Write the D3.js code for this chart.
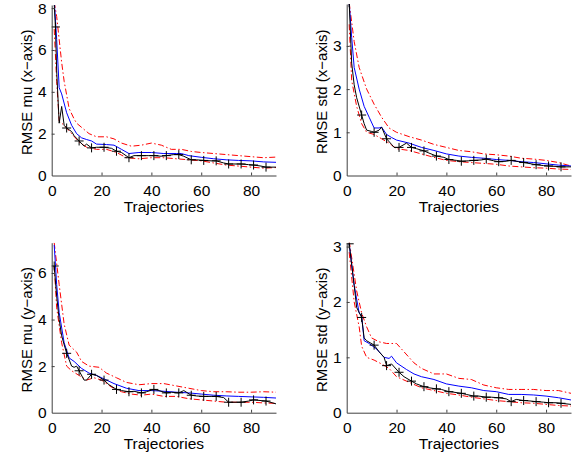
<!DOCTYPE html>
<html>
<head>
<meta charset="utf-8">
<script src="https://cdn.jsdelivr.net/npm/d3@7"></script>
<style>
  body { margin: 0; background: #fff; }
  svg { display: block; font-family: "Liberation Sans", Arial, sans-serif; }
</style>
</head>
<body>
<div id="chart"></div>
<script>
const width = 578;
const height = 459;

// x positions of the "+" markers on the black curve
const markerX = [1, 6, 11, 16, 21, 26, 31, 36, 41, 46, 51, 56, 61, 66, 71, 76, 81, 86];

// RMSE mu (x-axis)
const muXBlack = [[1,8.2],[1.5,7.1],[2,5.0],[3,2.5],[4,3.3],[5,2.4],[6,2.27],[8,2.1],[9,1.9],[11,1.65],[13,1.4],[14,1.5],[16,1.32],[18,1.35],[21,1.35],[24,1.3],[26,1.16],[28,1.1],[31,0.85],[33,0.95],[36,0.95],[39,0.95],[41,0.95],[44,0.92],[46,0.95],[49,1.0],[51,1.0],[53,0.92],[56,0.75],[58,0.75],[61,0.72],[64,0.7],[66,0.7],[69,0.6],[71,0.55],[74,0.55],[76,0.55],[79,0.52],[81,0.5],[84,0.45],[86,0.4],[90,0.4]];
const muXBlue = [[1,8.4],[2,6.5],[3,4.2],[4,3.9],[6,3.0],[8,2.4],[10,2.0],[12,1.8],[14,1.72],[16,1.65],[18,1.5],[22,1.48],[25,1.45],[28,1.25],[31,1.05],[35,1.1],[40,1.1],[45,1.05],[50,1.05],[52,1.05],[55,0.95],[60,0.87],[65,0.8],[70,0.75],[75,0.72],[80,0.7],[85,0.65],[90,0.63]];
const muXUpper = [[1,8.3],[2,7.6],[3,6.5],[4,5.4],[5,4.5],[7,3.2],[9,2.7],[10,2.5],[12,2.3],[15,2.0],[18,1.85],[22,1.85],[25,1.75],[28,1.55],[32,1.4],[36,1.45],[40,1.55],[44,1.45],[48,1.25],[52,1.25],[56,1.15],[60,1.1],[65,1.05],[70,1.0],[75,0.95],[80,0.9],[85,0.85],[90,0.88]];
const muXLower = [[1,7.0],[2,4.5],[3,2.6],[5,2.4],[8,2.0],[11,1.6],[14,1.35],[18,1.25],[22,1.25],[26,1.1],[30,0.85],[35,0.8],[40,0.85],[45,0.85],[50,0.8],[55,0.75],[60,0.7],[65,0.6],[70,0.5],[75,0.45],[80,0.4],[85,0.35],[90,0.38]];

// RMSE std (x-axis)
const stdXBlack = [[1,4.0],[2,2.6],[3,2.1],[4,1.8],[6,1.4],[7,1.2],[8,1.05],[10,1.02],[11,1.0],[13,1.05],[14,1.12],[16,0.85],[18,0.72],[19,0.65],[21,0.65],[24,0.75],[26,0.65],[28,0.62],[31,0.57],[33,0.52],[36,0.45],[39,0.42],[41,0.37],[44,0.35],[46,0.33],[49,0.34],[51,0.35],[54,0.36],[56,0.38],[59,0.34],[61,0.32],[64,0.33],[66,0.35],[69,0.32],[71,0.3],[74,0.27],[76,0.25],[79,0.23],[81,0.22],[84,0.21],[86,0.2],[90,0.2]];
const stdXBlue = [[1,4.0],[2,3.2],[3,2.5],[5,2.0],[7,1.6],[9,1.35],[11,1.1],[13,1.1],[14,1.12],[16,0.95],[18,0.88],[20,0.82],[25,0.75],[30,0.65],[35,0.58],[40,0.5],[45,0.45],[50,0.42],[55,0.4],[60,0.37],[65,0.35],[70,0.32],[75,0.3],[80,0.27],[85,0.24],[90,0.22]];
const stdXUpper = [[1,4.0],[3,3.1],[5,2.5],[8,2.0],[11,1.65],[14,1.35],[17,1.1],[20,1.0],[25,0.9],[30,0.82],[35,0.72],[40,0.65],[45,0.58],[50,0.55],[55,0.5],[60,0.48],[65,0.45],[70,0.4],[75,0.38],[80,0.35],[85,0.3],[90,0.22]];
const stdXLower = [[1,3.5],[2,2.2],[4,1.6],[6,1.2],[8,1.0],[11,0.95],[14,0.85],[17,0.75],[20,0.62],[25,0.58],[30,0.5],[35,0.42],[40,0.35],[45,0.32],[50,0.3],[55,0.28],[60,0.26],[65,0.22],[70,0.2],[75,0.18],[80,0.17],[85,0.15],[90,0.14]];

// RMSE mu (y-axis)
const muYBlack = [[1,6.3],[2,5.0],[3,4.0],[4,3.3],[6,2.55],[8,2.0],[9,1.95],[10,2.0],[11,1.8],[13,1.4],[14,1.4],[16,1.65],[18,1.6],[21,1.4],[23,1.2],[26,1.0],[28,0.95],[31,0.9],[33,0.92],[36,0.85],[38,0.9],[41,1.0],[43,0.95],[46,0.85],[48,0.88],[51,0.85],[53,0.95],[56,0.75],[58,0.72],[61,0.7],[64,0.7],[66,0.7],[69,0.65],[71,0.45],[74,0.45],[76,0.45],[79,0.5],[81,0.55],[84,0.52],[86,0.5],[90,0.38]];
const muYBlue = [[1,7.2],[2,5.5],[3,4.3],[5,3.0],[7,2.35],[9,2.2],[12,1.9],[15,1.7],[18,1.6],[21,1.45],[25,1.25],[30,1.05],[35,0.95],[40,0.95],[45,0.92],[50,0.88],[55,0.85],[60,0.8],[65,0.75],[70,0.72],[75,0.7],[80,0.68],[85,0.66],[90,0.63]];
const muYUpper = [[1,7.3],[3,5.5],[5,3.8],[7,2.9],[10,2.6],[12,2.2],[15,2.0],[19,1.95],[22,1.7],[26,1.5],[30,1.3],[35,1.2],[40,1.25],[45,1.25],[50,1.15],[55,1.05],[60,0.95],[65,0.9],[70,0.9],[75,0.88],[80,0.88],[85,0.9],[90,0.88]];
const muYLower = [[1,6.3],[2,4.5],[4,3.0],[6,2.0],[8,1.8],[11,1.6],[14,1.4],[17,1.5],[20,1.4],[24,1.1],[28,0.9],[32,0.8],[36,0.75],[40,0.8],[45,0.7],[50,0.7],[55,0.6],[60,0.55],[65,0.5],[70,0.45],[75,0.45],[80,0.45],[85,0.42],[90,0.4]];

// RMSE std (y-axis)
const stdYBlack = [[1,3.05],[3,2.3],[4,1.9],[6,1.72],[7,1.35],[8,1.3],[11,1.22],[13,1.1],[15,1.0],[16,0.85],[18,0.88],[21,0.73],[23,0.65],[26,0.57],[28,0.52],[31,0.47],[33,0.45],[36,0.43],[38,0.42],[41,0.38],[43,0.37],[46,0.35],[48,0.33],[51,0.3],[53,0.3],[56,0.28],[58,0.28],[61,0.27],[64,0.25],[66,0.2],[68,0.24],[71,0.22],[74,0.21],[76,0.2],[79,0.19],[81,0.18],[84,0.18],[86,0.17],[90,0.15]];
const stdYBlue = [[1,3.05],[3,2.3],[5,1.8],[6,1.75],[7,1.3],[9,1.25],[12,1.15],[15,1.0],[17,0.98],[18,1.02],[20,0.9],[24,0.78],[27,0.7],[30,0.65],[35,0.6],[40,0.52],[45,0.48],[50,0.45],[55,0.4],[60,0.38],[65,0.33],[70,0.33],[75,0.32],[80,0.3],[85,0.27],[90,0.23]];
const stdYUpper = [[1,3.1],[3,2.5],[4,2.2],[6,1.8],[8,1.55],[10,1.35],[13,1.28],[16,1.25],[20,1.25],[23,1.1],[27,0.9],[30,0.8],[35,0.7],[40,0.7],[45,0.62],[50,0.6],[55,0.5],[60,0.45],[65,0.42],[70,0.42],[75,0.42],[80,0.4],[85,0.4],[90,0.35]];
const stdYLower = [[1,2.9],[3,2.0],[5,1.55],[6,1.2],[8,1.0],[11,0.95],[14,0.88],[17,0.8],[20,0.65],[25,0.55],[30,0.45],[35,0.4],[40,0.35],[45,0.32],[50,0.28],[55,0.25],[60,0.22],[65,0.2],[70,0.18],[75,0.17],[80,0.15],[85,0.13],[90,0.12]];

const xTicks = [0, 20, 40, 60, 80];

const panels = [
  {label: "RMSE mu (x\u2212axis)", left: 51.7, right: 276, top: 5, bottom: 175.5, ymax: 8.15, yTicks: [0,2,4,6,8],
   black: muXBlack, blue: muXBlue, upper: muXUpper, lower: muXLower},
  {label: "RMSE std (x\u2212axis)", left: 346.7, right: 571, top: 4, bottom: 175.5, ymax: 3.97, yTicks: [0,1,2,3],
   black: stdXBlack, blue: stdXBlue, upper: stdXUpper, lower: stdXLower},
  {label: "RMSE mu (y\u2212axis)", left: 51.7, right: 276, top: 242.7, bottom: 412.7, ymax: 7.3, yTicks: [0,2,4,6],
   black: muYBlack, blue: muYBlue, upper: muYUpper, lower: muYLower},
  {label: "RMSE std (y\u2212axis)", left: 346.7, right: 571, top: 242.7, bottom: 412.7, ymax: 3.07, yTicks: [0,1,2,3],
   black: stdYBlack, blue: stdYBlue, upper: stdYUpper, lower: stdYLower}
];

const svg = d3.select("#chart").append("svg")
  .attr("width", width)
  .attr("height", height);

const axisColor = "#404040";
const fontSize = "15.5px";

panels.forEach((p, i) => {
  const x = d3.scaleLinear().domain([0, 90]).range([p.left, p.right]);
  const y = d3.scaleLinear().domain([0, p.ymax]).range([p.bottom, p.top]);

  const clipId = "clip" + i;
  svg.append("clipPath").attr("id", clipId)
    .append("rect")
    .attr("x", p.left).attr("y", p.top)
    .attr("width", p.right - p.left).attr("height", p.bottom - p.top);

  const line = d3.line().x(d => x(d[0])).y(d => y(d[1]));
  const g = svg.append("g").attr("clip-path", `url(#${clipId})`);

  g.append("path").datum(p.upper)
    .attr("d", line).attr("fill", "none").attr("stroke", "#ff0000")
    .attr("stroke-width", 1).attr("stroke-dasharray", "6,2.5,1.5,2.5");
  g.append("path").datum(p.lower)
    .attr("d", line).attr("fill", "none").attr("stroke", "#ff0000")
    .attr("stroke-width", 1).attr("stroke-dasharray", "6,2.5,1.5,2.5");
  g.append("path").datum(p.blue)
    .attr("d", line).attr("fill", "none").attr("stroke", "#0000ff").attr("stroke-width", 1);
  g.append("path").datum(p.black)
    .attr("d", line).attr("fill", "none").attr("stroke", "#000").attr("stroke-width", 1);

  // "+" markers every 5 trajectories (first one sits just below the top in panel 1)
  const pts = p.black.filter(d => markerX.includes(d[0]) && !(i === 0 && d[0] === 1));
  if (i === 0) pts.unshift(p.black.find(d => d[0] === 1.5));
  g.append("g").selectAll("path")
    .data(pts)
    .join("path")
    .attr("d", d => `M${x(d[0]) - 4.5},${y(d[1])}h9M${x(d[0])},${y(d[1]) - 4.5}v9`)
    .attr("stroke", "#000").attr("stroke-width", 1).attr("fill", "none");

  // axes (MATLAB style: ticks inside, box off)
  const xAxis = svg.append("g")
    .attr("transform", `translate(0,${p.bottom})`)
    .call(d3.axisBottom(x).tickValues(xTicks).tickFormat(d3.format("d"))
      .tickSize(-3).tickPadding(9).tickSizeOuter(0));
  const yAxis = svg.append("g")
    .attr("transform", `translate(${p.left},0)`)
    .call(d3.axisLeft(y).tickValues(p.yTicks).tickFormat(d3.format("d"))
      .tickSize(-3).tickPadding(5).tickSizeOuter(0));

  [xAxis, yAxis].forEach(a => {
    a.select(".domain").attr("stroke", axisColor);
    a.selectAll(".tick line").attr("stroke", axisColor);
    a.selectAll(".tick text").attr("fill", "#000")
      .style("font-size", fontSize).style("font-family", "Liberation Sans, Arial, sans-serif");
  });
  xAxis.selectAll(".tick").filter(d => d === 0).select("line").remove();
  yAxis.selectAll(".tick").filter(d => d === 0).select("line").remove();

  svg.append("text")
    .attr("x", (p.left + p.right) / 2)
    .attr("y", p.bottom + 36.5)
    .attr("text-anchor", "middle")
    .style("font-size", fontSize)
    .text("Trajectories");

  svg.append("text")
    .attr("transform", `translate(${p.left - 19.5},${(p.top + p.bottom) / 2 + 2}) rotate(-90)`)
    .attr("text-anchor", "middle")
    .style("font-size", "15px")
    .text(p.label);
});
</script>
</body>
</html>
